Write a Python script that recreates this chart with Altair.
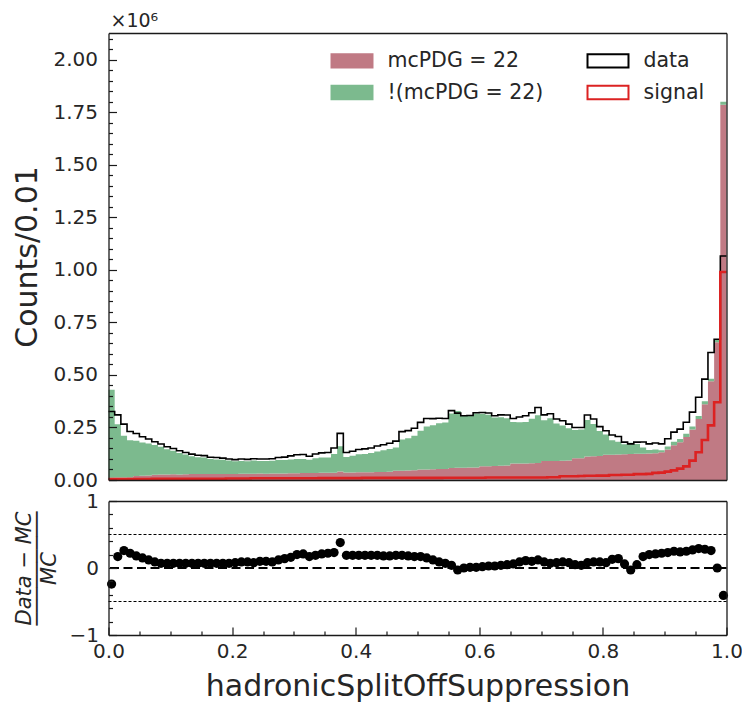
import altair as alt
import pandas as pd

# ---------------- values (counts in units of 10^6 per 0.01 bin) -------------
N_BINS = 100
BIN_WIDTH = 0.01

data_counts = [
    0.326, 0.310, 0.266, 0.231, 0.221, 0.206, 0.195, 0.182, 0.171, 0.158,
    0.150, 0.139, 0.131, 0.123, 0.118, 0.116, 0.108, 0.107, 0.104, 0.100,
    0.097, 0.100, 0.098, 0.101, 0.100, 0.100, 0.101, 0.107, 0.109, 0.115,
    0.120, 0.121, 0.113, 0.124, 0.129, 0.131, 0.152, 0.222, 0.131, 0.137,
    0.145, 0.148, 0.152, 0.162, 0.168, 0.175, 0.185, 0.230, 0.235, 0.246,
    0.274, 0.293, 0.292, 0.294, 0.293, 0.330, 0.318, 0.306, 0.307, 0.320,
    0.321, 0.319, 0.306, 0.310, 0.309, 0.293, 0.300, 0.306, 0.320, 0.345,
    0.310, 0.315, 0.290, 0.282, 0.266, 0.250, 0.250, 0.309, 0.290, 0.254,
    0.234, 0.214, 0.207, 0.180, 0.172, 0.180, 0.181, 0.172, 0.176, 0.172,
    0.196, 0.228, 0.242, 0.275, 0.323, 0.394, 0.480, 0.607, 0.670, 1.066,
]

mc_photon = [
    0.011, 0.012, 0.012, 0.013, 0.019, 0.020, 0.021, 0.025, 0.026, 0.026,
    0.027, 0.026, 0.027, 0.028, 0.028, 0.028, 0.029, 0.028, 0.028, 0.029,
    0.029, 0.030, 0.030, 0.030, 0.031, 0.030, 0.031, 0.031, 0.031, 0.032,
    0.032, 0.033, 0.033, 0.033, 0.034, 0.034, 0.034, 0.040, 0.036, 0.036,
    0.037, 0.037, 0.037, 0.038, 0.038, 0.039, 0.044, 0.044, 0.045, 0.046,
    0.050, 0.050, 0.051, 0.052, 0.052, 0.057, 0.058, 0.058, 0.059, 0.060,
    0.066, 0.066, 0.067, 0.068, 0.069, 0.078, 0.078, 0.079, 0.080, 0.081,
    0.090, 0.090, 0.091, 0.092, 0.093, 0.103, 0.104, 0.112, 0.113, 0.114,
    0.120, 0.120, 0.121, 0.122, 0.124, 0.125, 0.125, 0.126, 0.127, 0.132,
    0.145, 0.165, 0.180, 0.205, 0.240, 0.290, 0.360, 0.470, 0.655, 1.785,
]

mc_other = [
    0.418, 0.253, 0.199, 0.176, 0.168, 0.159, 0.153, 0.142, 0.132, 0.120,
    0.112, 0.102, 0.094, 0.085, 0.080, 0.079, 0.071, 0.070, 0.068, 0.064,
    0.060, 0.061, 0.059, 0.063, 0.059, 0.060, 0.061, 0.064, 0.064, 0.066,
    0.068, 0.067, 0.063, 0.071, 0.073, 0.073, 0.090, 0.121, 0.074, 0.079,
    0.085, 0.087, 0.091, 0.098, 0.104, 0.109, 0.111, 0.149, 0.154, 0.164,
    0.184, 0.205, 0.210, 0.218, 0.222, 0.260, 0.270, 0.248, 0.245, 0.257,
    0.249, 0.244, 0.230, 0.230, 0.225, 0.198, 0.197, 0.197, 0.211, 0.227,
    0.194, 0.204, 0.178, 0.167, 0.153, 0.135, 0.136, 0.174, 0.153, 0.119,
    0.097, 0.069, 0.061, 0.048, 0.053, 0.046, 0.030, 0.017, 0.018, 0.009,
    0.014, 0.017, 0.015, 0.015, 0.014, 0.015, 0.015, 0.012, 0.015, 0.015,
]

signal_counts = [
    0.004, 0.004, 0.004, 0.004, 0.004, 0.005, 0.005, 0.006, 0.006, 0.006,
    0.006, 0.006, 0.006, 0.006, 0.006, 0.006, 0.006, 0.006, 0.006, 0.007,
    0.007, 0.007, 0.007, 0.008, 0.008, 0.008, 0.008, 0.008, 0.008, 0.008,
    0.008, 0.008, 0.008, 0.008, 0.009, 0.009, 0.009, 0.009, 0.009, 0.009,
    0.009, 0.010, 0.010, 0.010, 0.010, 0.010, 0.010, 0.010, 0.010, 0.010,
    0.010, 0.010, 0.010, 0.010, 0.011, 0.011, 0.011, 0.011, 0.011, 0.011,
    0.011, 0.012, 0.012, 0.012, 0.012, 0.012, 0.012, 0.012, 0.012, 0.012,
    0.012, 0.013, 0.013, 0.018, 0.018, 0.018, 0.019, 0.020, 0.020, 0.021,
    0.021, 0.024, 0.024, 0.025, 0.025, 0.028, 0.028, 0.029, 0.034, 0.035,
    0.040, 0.046, 0.054, 0.065, 0.092, 0.132, 0.190, 0.260, 0.370, 0.990,
]

ratio_values = [
    -0.24, 0.17, 0.26, 0.22, 0.18, 0.15, 0.12, 0.09, 0.07, 0.07,
    0.07, 0.07, 0.07, 0.07, 0.07, 0.07, 0.07, 0.07, 0.07, 0.07,
    0.08, 0.09, 0.09, 0.08, 0.10, 0.10, 0.09, 0.12, 0.14, 0.16,
    0.20, 0.21, 0.17, 0.19, 0.21, 0.22, 0.23, 0.38, 0.19, 0.19,
    0.19, 0.19, 0.19, 0.19, 0.18, 0.18, 0.19, 0.19, 0.18, 0.17,
    0.17, 0.15, 0.12, 0.09, 0.07, 0.04, -0.03, 0.00, 0.01, 0.01,
    0.02, 0.03, 0.03, 0.04, 0.05, 0.06, 0.09, 0.11, 0.10, 0.12,
    0.09, 0.07, 0.08, 0.09, 0.08, 0.05, 0.04, 0.08, 0.09, 0.09,
    0.08, 0.13, 0.14, 0.06, -0.03, 0.05, 0.17, 0.20, 0.21, 0.22,
    0.23, 0.25, 0.24, 0.25, 0.27, 0.29, 0.28, 0.26, 0.00, -0.41,
]

# legend entries, column by column
legend_order = ["mcPDG = 22", "!(mcPDG = 22)", "data", "signal"]

top_major_ticks = [0.0, 0.25, 0.5, 0.75, 1.0, 1.25, 1.5, 1.75, 2.0]
top_minor_ticks = [round(0.05 * k, 2) for k in range(43) if k % 5 != 0]
x_major_ticks = [0.0, 0.2, 0.4, 0.6, 0.8, 1.0]
x_minor_ticks = [round(0.05 * k, 2) for k in range(21) if k % 4 != 0]
ratio_major_ticks = [-1, 0, 1]
ratio_minor_ticks = [-0.8, -0.6, -0.4, -0.2, 0.2, 0.4, 0.6, 0.8]
ratio_dashed = [0.0]
ratio_dotted = [-0.5, 0.5]

Y_TOP_DOMAIN = [0, 2.127]
Y_RATIO_DOMAIN = [-1, 1]

# ---------------- styling ----------------
PINK = "#c07a84"
GREEN = "#7cba8e"
RED = "#dc2222"
INK = "#1a1a1a"
TXT = "#262626"
FONT = "DejaVu Sans"

PLOT_W = 618
PLOT_H = 602
TOP_H = 447
BOT_TOP = 468

# ---------------- tables ----------------
edges = [round(i * BIN_WIDTH, 4) for i in range(N_BINS + 1)]
centers = [round((edges[i] + edges[i + 1]) / 2, 4) for i in range(N_BINS)]

# step-shaped stacked histogram: one point per bin edge (last bin value repeated at x = 1)
stack_df = pd.DataFrame({
    "x": edges * 2,
    "count": mc_photon + mc_photon[-1:] + mc_other + mc_other[-1:],
    "series": ["mcPDG = 22"] * (N_BINS + 1) + ["!(mcPDG = 22)"] * (N_BINS + 1),
    "stack_order": [0] * (N_BINS + 1) + [1] * (N_BINS + 1),
})
data_step = pd.DataFrame({"x": edges, "count": data_counts + data_counts[-1:], "series": "data"})
signal_step = pd.DataFrame({"x": edges, "count": signal_counts + signal_counts[-1:], "series": "signal"})
ratio_df = pd.DataFrame({"x": centers, "ratio": ratio_values})
dashed_df = pd.DataFrame({"v": ratio_dashed})
dotted_df = pd.DataFrame({"v": ratio_dotted})

# ---------------- scales ----------------
x_scale = alt.Scale(domain=[0, 1], nice=False, zero=False)
top_scale = alt.Scale(domain=Y_TOP_DOMAIN, range=[TOP_H, 0], nice=False, zero=False)
ratio_scale = alt.Scale(domain=Y_RATIO_DOMAIN, range=[PLOT_H, BOT_TOP], nice=False, zero=False)
fill_scale = alt.Scale(domain=legend_order, range=[PINK, GREEN, "#ffffff", "#ffffff"])
stroke_scale = alt.Scale(domain=legend_order, range=[PINK, GREEN, "#000000", RED])


def axis(**kw):
    base = dict(grid=False, labels=False, ticks=False, domain=False, title=None, zindex=1,
                tickColor=INK, tickWidth=1.2, domainColor=INK, domainWidth=1.3,
                labelFont=FONT, labelColor=TXT, titleFont=FONT, titleColor=TXT,
                titleFontWeight="normal", labelFlush=False)
    base.update(kw)
    return alt.Axis(**base)


# major / minor tick axes (ticks pointing inward via negative offset)
ax_top_major = axis(orient="left", values=top_major_ticks, ticks=True, tickSize=8, offset=-8,
                    labels=True, format=".2f", labelFontSize=20, labelPadding=11,
                    title="Counts/0.01", titleFontSize=30, titleAngle=270, titleAlign="center",
                    titleBaseline="middle", titleX=-89.5, titleY=TOP_H / 2)
ax_top_minor = axis(orient="left", values=top_minor_ticks, ticks=True, tickSize=4, offset=-4,
                    title="×10⁶", titleFontSize=19, titleAngle=0, titleAlign="left",
                    titleBaseline="alphabetic", titleX=-2.5, titleY=-7)
ax_x_major = axis(orient="bottom", values=x_major_ticks, ticks=True, tickSize=8, offset=-8,
                  labels=True, format=".1f", labelFontSize=20, labelPadding=6,
                  title="hadronicSplitOffSuppression", titleFontSize=30, titleAlign="center",
                  titleBaseline="alphabetic", titleX=PLOT_W / 2, titleY=68)
ax_x_minor = axis(orient="bottom", values=x_minor_ticks, ticks=True, tickSize=4, offset=-4)
ax_ratio_major = axis(orient="left", values=ratio_major_ticks, ticks=True, tickSize=8, offset=-8,
                      labels=True, labelFontSize=20, labelPadding=10,
                      labelExpr="datum.value < 0 ? '\u2212' + format(abs(datum.value), 'd') : format(datum.value, 'd')",
                      title=["Data \u2212 MC", "\u2500\u2500\u2500\u2500\u2500\u2500\u2500\u2500\u2500", "MC"],
                      titleFontSize=21, titleFontStyle="italic", titleLineHeight=12.5,
                      titleAngle=270, titleAlign="center", titleBaseline="middle",
                      titleX=-92, titleY=(PLOT_H + BOT_TOP) / 2)
ax_ratio_minor = axis(orient="left", values=ratio_minor_ticks, ticks=True, tickSize=4, offset=-4)

# panel frames (domain lines only)
fr_top_top = axis(orient="top", domain=True)
fr_top_bottom = axis(orient="bottom", domain=True, offset=-(PLOT_H - TOP_H))
fr_top_left = axis(orient="left", domain=True)
fr_top_right = axis(orient="right", domain=True)
fr_bot_top = axis(orient="bottom", domain=True, offset=-(PLOT_H - BOT_TOP))
fr_bot_bottom = axis(orient="bottom", domain=True)
fr_bot_left = axis(orient="left", domain=True)
fr_bot_right = axis(orient="right", domain=True)

legend = alt.Legend(
    title=None, orient="none", legendX=232, legendY=16, columns=2, columnPadding=40,
    rowPadding=9, padding=0,
    symbolType="M-2,-0.65L2,-0.65L2,0.65L-2,0.65Z", symbolSize=420, symbolStrokeWidth=2,
    symbolOpacity=1, labelFont=FONT, labelFontSize=20.5, labelColor=TXT, labelOffset=24,
    labelLimit=400,
)

# ---------------- layers ----------------
stacked = (
    alt.Chart(stack_df)
    .transform_stack(stack="count", groupby=["x"], as_=["y_lo", "y_hi"],
                     sort=[alt.SortField("stack_order", order="ascending")])
    .mark_area(interpolate="step-after", opacity=1)
    .encode(
        x=alt.X("x:Q", scale=x_scale, axis=ax_x_major),
        y=alt.Y("y_hi:Q", scale=top_scale, axis=ax_top_major),
        y2="y_lo:Q",
        fill=alt.Fill("series:N", scale=fill_scale, legend=legend),
    )
)

data_line = alt.Chart(data_step).mark_line(interpolate="step-after", strokeWidth=1.6).encode(
    x=alt.X("x:Q", scale=x_scale, axis=ax_x_minor),
    y=alt.Y("count:Q", scale=top_scale, axis=ax_top_minor),
    stroke=alt.Stroke("series:N", scale=stroke_scale, legend=legend),
)

signal_line = alt.Chart(signal_step).mark_line(interpolate="step-after", strokeWidth=2.6).encode(
    x=alt.X("x:Q", scale=x_scale, axis=fr_top_top),
    y=alt.Y("count:Q", scale=top_scale, axis=fr_top_left),
    stroke=alt.Stroke("series:N", scale=stroke_scale, legend=legend),
)

top_frame = alt.Chart(data_step).mark_line(opacity=0).encode(
    x=alt.X("x:Q", scale=x_scale, axis=fr_top_bottom),
    y=alt.Y("count:Q", scale=top_scale, axis=fr_top_right),
)

dotted = alt.Chart(dotted_df).mark_rule(color="black", strokeWidth=1.2, strokeDash=[3, 2]).encode(
    y=alt.Y("v:Q", scale=ratio_scale, axis=fr_bot_left),
)

dashed = alt.Chart(dashed_df).mark_rule(color="black", strokeWidth=2.2, strokeDash=[9, 4.5]).encode(
    y=alt.Y("v:Q", scale=ratio_scale, axis=ax_ratio_minor),
)

ratio_pts = alt.Chart(ratio_df).mark_circle(size=85, color="black", opacity=1).encode(
    x=alt.X("x:Q", scale=x_scale, axis=fr_bot_bottom),
    y=alt.Y("ratio:Q", scale=ratio_scale, axis=ax_ratio_major),
)

bot_frame = alt.Chart(ratio_df).mark_point(opacity=0).encode(
    x=alt.X("x:Q", scale=x_scale, axis=fr_bot_top),
    y=alt.Y("ratio:Q", scale=ratio_scale, axis=fr_bot_right),
)

chart = (
    alt.layer(stacked, data_line, signal_line, top_frame, dotted, dashed, ratio_pts, bot_frame)
    .resolve_scale(y="independent")
    .resolve_axis(x="independent", y="independent")
    .properties(
        width=PLOT_W,
        height=PLOT_H,
        autosize=alt.AutoSizeParams(type="none"),
        padding={"left": 108.5, "top": 33, "right": 15.5, "bottom": 67},
        background="white",
    )
    .configure(font=FONT)
    .configure_view(stroke=None)
)

chart.save("out.html", embed_options={"renderer": "svg", "actions": False})
